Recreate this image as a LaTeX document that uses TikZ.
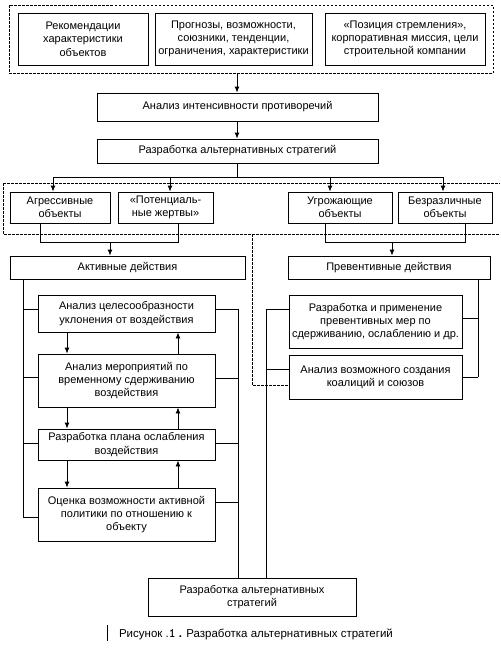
\documentclass[tikz,border=0pt]{standalone}
\usepackage{fontspec}
\setmainfont{Liberation Sans}
\usetikzlibrary{arrows.meta}
\begin{document}
\begin{tikzpicture}[x=1pt,y=-1pt,
  box/.style={draw,line width=0.9pt,align=center,inner sep=1pt,font=\fontsize{11}{13.3}\selectfont},
  ln/.style={line width=0.9pt},
  arr/.style={line width=0.9pt,-{Latex[length=6pt,width=5pt]}},
  dsh/.style={line width=0.8pt,dash pattern=on 2.5pt off 1.5pt}]
\useasboundingbox (0,0) rectangle (501,649);
% top group
\node[box,minimum width=130,minimum height=52] (b1) at (83,39) {Рекомендации\\характеристики\\объектов};
\node[box,minimum width=157,minimum height=52] (b2) at (233.5,39) {Прогнозы, возможности,\\союзники, тенденции,\\ограничения, характеристики};
\node[box,minimum width=160,minimum height=52] (b3) at (405,39) {«Позиция стремления»,\\корпоративная миссия, цели\\строительной компании};
\draw[dsh] (9,5) rectangle (493,73);
\coordinate (g1) at (237,73);
\node[box,minimum width=281,minimum height=28] (an) at (237.5,107) {Анализ интенсивности противоречий};
\node[box,minimum width=281,minimum height=24] (ra) at (237.5,151) {Разработка альтернативных стратегий};
\draw[arr] (g1) -- (an.north -| g1);
\draw[arr] (an.south -| g1) -- (ra.north -| g1);
% objects
\node[box,minimum width=100,minimum height=31] (agr) at (60,207.5) {Агрессивные\\объекты};
\node[box,minimum width=95,minimum height=31] (pot) at (165.5,207.5) {«Потенциаль-\\ные жертвы»};
\node[box,minimum width=104,minimum height=31] (ugr) at (340,207.5) {Угрожающие\\объекты};
\node[box,minimum width=94,minimum height=31] (bez) at (445,207.5) {Безразличные\\объекты};
\draw[dsh] (3,183) -- (500,183);
\draw[dsh] (3,183) -- (3,234) -- (500,234);
\coordinate (bar) at (237,177);
\draw[ln] (ra.south -| bar) -- (bar);
\draw[ln] (53,177) -- (443,177);
\draw[arr] (53,177) -- (agr.north -| 53,0);
\draw[arr] (170,177) -- (pot.north -| 170,0);
\draw[arr] (330,177) -- (ugr.north -| 330,0);
\draw[arr] (443,177) -- (bez.north -| 443,0);
% actions
\node[box,minimum width=235,minimum height=23] (act) at (127.5,267.5) {Активные действия};
\node[box,minimum width=202,minimum height=23] (prev) at (389,267.5) {Превентивные действия};
\draw[ln] (agr.south -| 40,0) -- (40,242) -- (178,242) -- (pot.south -| 178,0);
\draw[arr] (110,242) -- (act.north -| 110,0);
\draw[ln] (ugr.south -| 325,0) -- (325,242) -- (465,242) -- (bez.south -| 465,0);
\draw[arr] (392,242) -- (prev.north -| 392,0);
% active chain
\node[box,minimum width=177,minimum height=37] (a1) at (126.5,313.5) {Анализ целесообразности\\уклонения от воздействия};
\node[box,minimum width=177,minimum height=53] (a2) at (126.5,380.5) {Анализ мероприятий по\\временному сдерживанию\\воздействия};
\node[box,minimum width=177,minimum height=31] (a3) at (126.5,444.5) {Разработка плана ослабления\\воздействия};
\node[box,minimum width=177,minimum height=53] (a4) at (126.5,514.5) {Оценка возможности активной\\политики по отношению к\\объекту};
\foreach \u/\v in {a1/a2,a2/a3,a3/a4}{
  \draw[arr] (\u.south -| 67,0) -- (\v.north -| 67,0);
  \draw[arr] (\v.north -| 178,0) -- (\u.south -| 178,0);
}
\draw[ln] (act.south -| 23,0) -- (23,517);
\draw[ln] (23,309) -- (a1.west |- 0,309);
\draw[ln] (23,377) -- (a2.west |- 0,377);
\draw[ln] (23,443) -- (a3.west |- 0,443);
\draw[ln] (23,517) -- (a4.west |- 0,517);
% preventive chain
\node[box,minimum width=173,minimum height=53] (p1) at (375.5,321.5) {Разработка и применение\\превентивных мер по\\сдерживанию, ослаблению и др.};
\node[box,minimum width=173,minimum height=44] (p2) at (375.5,377) {Анализ возможного создания\\коалиций и союзов};
\draw[ln] (prev.south -| 478,0) -- (478,377);
\draw[ln] (p1.east |- 0,318) -- (478,318);
\draw[ln] (p2.east |- 0,377) -- (478,377);
% bottom
\node[box,minimum width=208,minimum height=38] (bot) at (252,597) {Разработка альтернативных\\стратегий};
\draw[ln] (a1.east |- 0,309) -- (238,309);
\draw[ln] (a2.east |- 0,378) -- (238,378);
\draw[ln] (a3.east |- 0,443) -- (238,443);
\draw[ln] (a4.east |- 0,502) -- (238,502);
\draw[ln] (238,309) -- (bot.north -| 238,0);
\draw[ln] (p1.west |- 0,309) -- (266,309) -- (bot.north -| 266,0);
\draw[ln] (p2.west |- 0,369) -- (266,369);
% dashed link
\draw[dsh] (252,234) -- (252,385) -- (p2.west |- 0,385);
% caption
\node[font=\fontsize{11.5}{13}\selectfont,anchor=base] (cap) at (256,637) {Рисунок .{\ttfamily\bfseries\fontsize{13}{13}\selectfont 1} {\bfseries .} Разработка альтернативных стратегий};
\draw[line width=0.6pt] (107,625) -- (107,641);
\end{tikzpicture}
\end{document}
